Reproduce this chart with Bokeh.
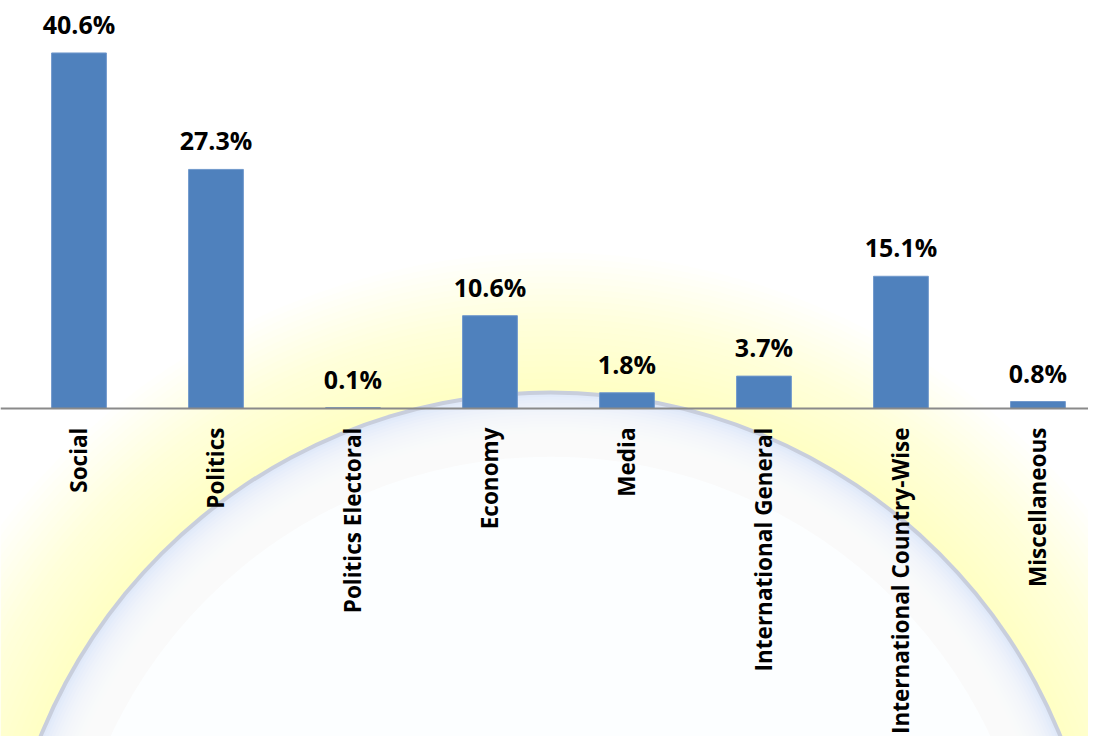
import math
from bokeh.plotting import figure
from bokeh.models import ColumnDataSource, Range1d, Span
from bokeh.core.properties import value
from bokeh.embed import file_html
from bokeh.resources import INLINE

# ---- data ----
categories = ["Social", "Politics", "Politics Electoral", "Economy", "Media",
              "International General", "International Country-Wise", "Miscellaneous"]
shares = [40.6, 27.3, 0.1, 10.6, 1.8, 3.7, 15.1, 0.8]
share_labels = ["40.6%", "27.3%", "0.1%", "10.6%", "1.8%", "3.7%", "15.1%", "0.8%"]

idx = list(range(len(categories)))
src = ColumnDataSource(dict(x=idx, top=shares, lab=share_labels, cat=categories))

W, H = 1088, 736
p = figure(width=W, height=H, output_backend="svg", toolbar_location=None,
           x_range=Range1d(-0.573, 7.369), y_range=Range1d(-37.45, 46.59),
           min_border_left=0, min_border_right=0, min_border_top=0, min_border_bottom=0,
           x_axis_location=None, y_axis_location=None)
p.outline_line_color = None
p.xgrid.visible = False
p.ygrid.visible = False
p.background_fill_color = "white"
p.border_fill_color = "white"

# ---- decorative background (pixel coordinates) ----
p.extra_x_ranges = {"px": Range1d(0, W)}
p.extra_y_ranges = {"py": Range1d(H, 0)}
cx, cy, R = 550, 942, 550

# pale yellow glow outside the disc
glow_r = list(range(690, R, -6))
p.circle(x=[cx] * len(glow_r), y=[cy] * len(glow_r), radius=glow_r,
         fill_color="#fff59a", fill_alpha=0.026, line_color=None,
         x_range_name="px", y_range_name="py")
# disc edge and inner fade to white
p.circle(x=[cx], y=[cy], radius=[R + 2], fill_color="#c8cedc", line_color=None,
         x_range_name="px", y_range_name="py")
p.circle(x=[cx], y=[cy], radius=[R - 2], fill_color="#e0e9f9", line_color=None,
         x_range_name="px", y_range_name="py")
inner_r = list(range(R - 4, R - 64, -3))
p.circle(x=[cx] * len(inner_r), y=[cy] * len(inner_r), radius=inner_r,
         fill_color="#fdfeff", fill_alpha=0.15, line_color=None,
         x_range_name="px", y_range_name="py")
p.circle(x=[cx], y=[cy], radius=[R - 64], fill_color="#fcfeff", line_color=None,
         x_range_name="px", y_range_name="py")

# ---- bars ----
p.vbar(x="x", top="top", width=0.40, bottom=0, source=src,
       fill_color="#4f81bd", line_color="#7199cc", line_width=1)

# baseline
p.add_layout(Span(location=0, dimension="width", line_color="#8a8a8a", line_width=2))

# value labels
p.text(x="x", y="top", text="lab", source=src, text_align="center",
       text_baseline="bottom", y_offset=-12,
       text_font=value("Open Sans"), text_font_style="bold",
       text_font_size="25px", text_color="#000000")

# category labels (vertical)
p.text(x="x", y=0, text="cat", source=src, text_align="right",
       text_baseline="middle", angle=math.pi / 2, y_offset=19,
       text_font=value("Open Sans"), text_font_style="bold",
       text_font_size="22.5px", text_color="#000000")

open("out.html", "w").write(file_html(p, INLINE))
